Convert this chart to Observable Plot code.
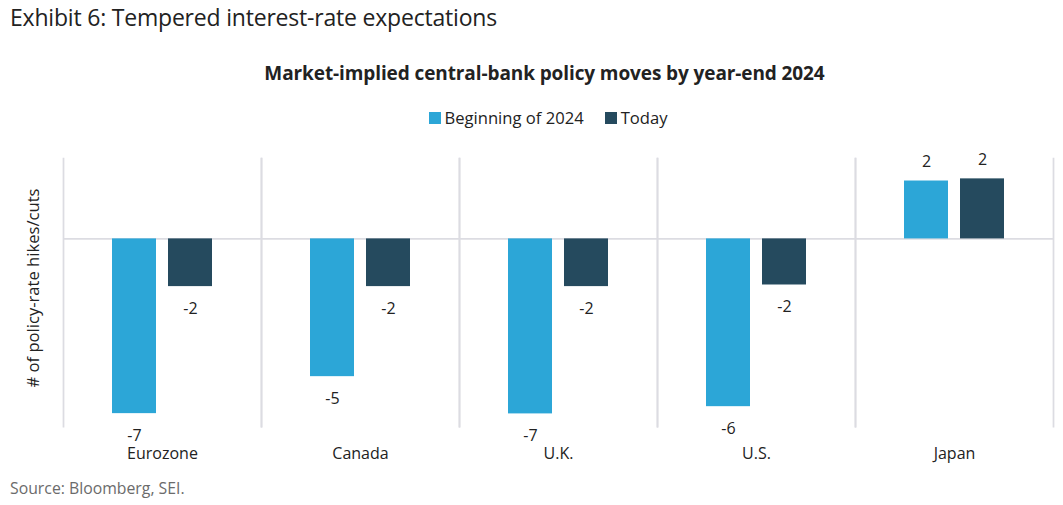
<!DOCTYPE html>
<html>
<head>
<meta charset="utf-8">
<script src="https://cdn.jsdelivr.net/npm/d3@7"></script>
<script src="https://cdn.jsdelivr.net/npm/@observablehq/plot@0.6"></script>
<style>
  html, body { margin: 0; padding: 0; background: #fff; }
  body { width: 1063px; height: 505px; position: relative; overflow: hidden; font-family: "Open Sans", "Noto Sans", sans-serif; color: #222; }
  .abs { position: absolute; white-space: nowrap; line-height: 1; }
  #title { left: 10px; top: 6px; font-size: 23px; letter-spacing: -0.2px; }
  #subtitle { left: 0; width: 1089px; text-align: center; top: 64px; font-size: 19px; font-weight: bold; letter-spacing: -0.1px; }
  #legend { left: 0; width: 1096px; top: 110px; font-size: 16.6px; display: flex; justify-content: center; gap: 21px; }
  #legend span.item { display: inline-flex; align-items: center; gap: 4px; }
  #legend i { display: inline-block; width: 12px; height: 12px; }
  #ylabel { left: 33px; top: 288px; font-size: 16.6px; transform: translate(-50%, -50%) rotate(-90deg); }
  #chart { position: absolute; left: 0; top: 140px; }
  #source { left: 10px; top: 481px; font-size: 15.8px; color: #6b6b6b; }
</style>
</head>
<body>
<div id="title" class="abs">Exhibit 6: Tempered interest-rate expectations</div>
<div id="subtitle" class="abs">Market-implied central-bank policy moves by year-end 2024</div>
<div id="legend" class="abs"></div>
<div id="ylabel" class="abs"># of policy-rate hikes/cuts</div>
<div id="chart"></div>
<div id="source" class="abs">Source: Bloomberg, SEI.</div>
<script>
const categories = ["Eurozone", "Canada", "U.K.", "U.S.", "Japan"];
const series = ["Beginning of 2024", "Today"];
const beginningValues = [-6.52, -5.14, -6.53, -6.26, 2.16];
const todayValues = [-1.78, -1.78, -1.78, -1.72, 2.24];
const seriesColors = ["#2ca6d7", "#254a5e"];

const rows = [];
categories.forEach((c, i) => {
  rows.push({category: c, series: series[0], value: beginningValues[i]});
  rows.push({category: c, series: series[1], value: todayValues[i]});
});
const fmt = d => (d.value < 0 ? "-" : "") + Math.abs(d.value).toFixed(0);

const legend = document.getElementById("legend");
series.forEach((s, i) => {
  const item = document.createElement("span");
  item.className = "item";
  const sw = document.createElement("i");
  sw.style.background = seriesColors[i];
  item.appendChild(sw);
  item.appendChild(document.createTextNode(s));
  legend.appendChild(item);
});

const grid = "#dcdce2";
const chart = Plot.plot({
  width: 1063,
  height: 330,
  marginTop: 18,
  marginBottom: 44,
  marginLeft: 62,
  marginRight: 9,
  style: {fontFamily: '"Open Sans", "Noto Sans", sans-serif', fontSize: "16px", color: "#222", background: "transparent"},
  fx: {domain: categories, padding: 0, label: null, axis: "bottom", tickSize: 0, tickPadding: 21},
  x: {domain: series, paddingInner: 0.21, paddingOuter: 0.846, axis: null},
  y: {domain: [-7, 3], axis: null},
  color: {domain: series, range: seriesColors},
  marks: [
    Plot.frame({anchor: "left", stroke: grid, strokeWidth: 1.75}),
    Plot.frame({anchor: "right", stroke: grid, strokeWidth: 1.75}),
    Plot.ruleY([0], {stroke: grid, strokeWidth: 1.75}),
    Plot.barY(rows, {fx: "category", x: "series", y: "value", fill: "series"}),
    Plot.text(rows.filter(d => d.value < 0), {fx: "category", x: "series", y: "value", text: fmt, dy: 22, fill: "#222", fontSize: 16}),
    Plot.text(rows.filter(d => d.value >= 0), {fx: "category", x: "series", y: "value", text: fmt, dy: -19, fill: "#222", fontSize: 16})
  ]
});
document.getElementById("chart").appendChild(chart);
</script>
</body>
</html>
